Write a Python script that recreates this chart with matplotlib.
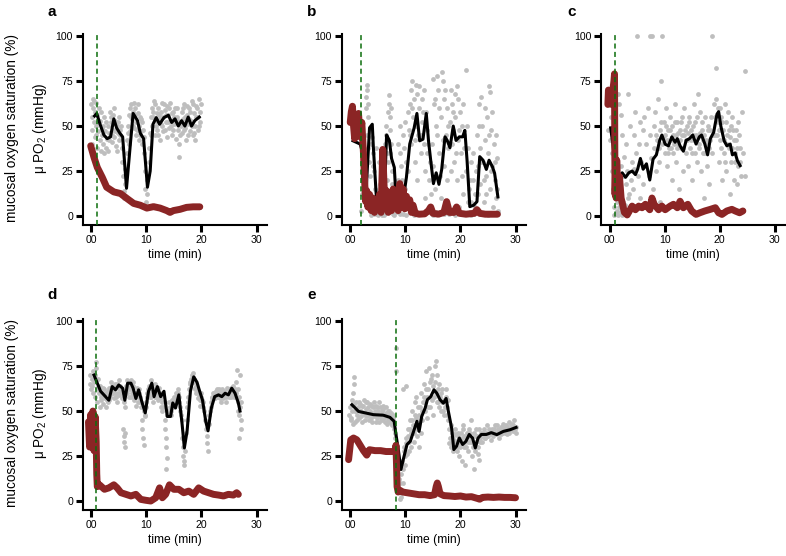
import numpy as np
import matplotlib
matplotlib.use("Agg")
import matplotlib.pyplot as plt

plt.rcParams["font.family"] = ["Liberation Sans", "DejaVu Sans"]
plt.rcParams["mathtext.fontset"] = "custom"
plt.rcParams["mathtext.rm"] = "Liberation Sans"
plt.rcParams["mathtext.it"] = "Liberation Sans:italic"

# x tick labels as printed in the figure
XTICKS = [0, 10, 20, 30]
XTICKLABELS = ["00", "10", "20", "30"]
YTICKS = [0, 25, 50, 75, 100]

# time of the green dashed marker (min)
a_marker = 1.0
b_marker = 1.9
c_marker = 0.95
d_marker = 0.9
e_marker = 8.3

# ---- panel a ----
a_gray = [(0.0, 62), (0.1, 55), (0.2, 48), (0.3, 60), (0.4, 65), (0.5, 52), (0.6, 44), (0.7, 58), (0.8, 63),
          (0.9, 50), (1.0, 38), (1.1, 56), (1.2, 47), (1.4, 60), (1.5, 42), (1.6, 53), (1.8, 36), (1.9, 49),
          (2.0, 45), (2.2, 40), (2.3, 55), (2.5, 47), (2.6, 38), (2.8, 43), (3.0, 50), (3.1, 36), (3.3, 46),
          (3.4, 58), (3.6, 52), (3.7, 41), (3.9, 56), (4.0, 48), (4.2, 44), (4.3, 53), (4.5, 39), (4.6, 50),
          (4.8, 46), (5.0, 42), (5.1, 55), (5.3, 48), (5.5, 38), (5.6, 30), (5.8, 22), (5.9, 14), (6.0, 10),
          (6.1, 18), (6.2, 26), (6.4, 35), (6.5, 42), (6.7, 50), (6.9, 56), (7.0, 60), (7.1, 47), (7.3, 62),
          (7.4, 54), (7.6, 58), (7.8, 49), (7.9, 60), (8.1, 52), (8.2, 45), (8.4, 57), (8.6, 50), (8.7, 42),
          (8.9, 55), (9.0, 47), (9.2, 40), (9.3, 52), (9.5, 44), (9.6, 35), (9.7, 25), (9.8, 15), (9.9, 8),
          (10.0, 5), (10.1, 12), (10.2, 20), (10.4, 30), (10.5, 38), (10.7, 46), (10.8, 55), (11.0, 60),
          (11.1, 50), (11.3, 58), (11.5, 45), (11.6, 62), (11.8, 53), (12.0, 48), (12.1, 60), (12.3, 56),
          (12.5, 42), (12.6, 51), (12.8, 63), (13.0, 55), (13.1, 47), (13.3, 59), (13.5, 52), (13.7, 44),
          (13.8, 61), (14.0, 56), (14.2, 49), (14.3, 63), (14.5, 53), (14.7, 45), (14.9, 58), (15.0, 51),
          (15.2, 60), (15.4, 43), (15.5, 55), (15.7, 48), (15.9, 40), (16.0, 33), (16.2, 52), (16.4, 58),
          (16.5, 46), (16.7, 54), (16.9, 62), (17.0, 49), (17.2, 42), (17.4, 56), (17.5, 51), (17.7, 60),
          (17.9, 47), (18.1, 53), (18.2, 64), (18.4, 45), (18.6, 57), (18.8, 50), (18.9, 42), (19.1, 61),
          (19.3, 55), (19.4, 48), (19.6, 65), (19.7, 58), (19.8, 52),
          (0.2, 40), (0.5, 64), (0.8, 45), (1.3, 52), (1.7, 58), (2.1, 50), (2.4, 35), (2.7, 52), (3.2, 42),
          (3.5, 55), (3.8, 45), (4.1, 60), (4.4, 47), (4.7, 36), (4.9, 52), (5.2, 45), (5.4, 50), (6.6, 46),
          (6.8, 40), (7.2, 55), (7.5, 50), (7.7, 63), (8.0, 56), (8.3, 48), (8.5, 62), (8.8, 45), (9.1, 54),
          (9.4, 48), (10.9, 45), (11.2, 55), (11.4, 64), (11.7, 50), (11.9, 57), (12.2, 45), (12.4, 54),
          (12.7, 58), (12.9, 50), (13.2, 62), (13.4, 48), (13.6, 56), (13.9, 52), (14.1, 60), (14.4, 50),
          (14.6, 57), (14.8, 48), (15.1, 55), (15.3, 52), (15.6, 60), (15.8, 53), (16.1, 45), (16.3, 50),
          (16.6, 60), (16.8, 48), (17.1, 55), (17.3, 61), (17.6, 45), (17.8, 54), (18.0, 58), (18.3, 50),
          (18.5, 62), (18.7, 46), (19.0, 55), (19.2, 60), (19.5, 50), (19.9, 62)]
a_black = [(0.6, 55.6), (1.0, 57), (1.6, 51), (2.3, 45), (2.9, 43), (3.5, 44), (4.1, 54), (4.6, 49), (5.2, 46),
           (5.7, 44), (6.4, 15.4), (7.1, 40), (7.6, 57), (8.4, 53), (8.9, 46), (9.5, 43), (10.2, 16), (10.7, 25),
           (11.2, 51), (11.8, 54.7), (12.4, 51), (13.2, 54.7), (14.0, 56), (14.6, 52), (15.2, 54), (15.8, 50),
           (16.4, 53), (17.0, 50), (17.6, 55), (18.2, 50), (18.8, 53), (19.6, 55)]
a_red = [(-0.1, 39), (0.5, 32.6), (1.1, 27), (2.0, 21.5), (2.8, 16), (4.1, 13.4), (5.3, 12.5), (6.5, 9.7),
         (7.7, 7), (8.9, 6), (10.1, 4.4), (11.3, 5.2), (12.5, 4.4), (13.7, 3), (14.3, 2), (14.9, 3), (16.1, 3.7),
         (17.3, 4.8), (18.5, 5.1), (19.7, 5.1)]

# ---- panel b ----
b_gray = [(1.9, 3), (2.1, 12), (2.3, 20), (2.5, 28),
          (2.8, 60), (2.9, 66), (3.0, 73), (3.1, 70), (3.2, 62), (3.3, 55), (3.0, 45), (3.2, 38), (3.4, 30),
          (3.5, 22), (3.6, 12), (3.3, 5), (3.7, 0.5),
          (4.0, 44), (4.2, 35), (4.3, 25), (4.5, 15), (4.6, 5), (4.8, 1), (5.0, 0.5), (5.2, 8), (5.4, 18),
          (5.5, 1), (5.7, 0.5), (5.9, 3), (6.0, 10),
          (6.3, 40), (6.4, 50), (6.5, 45), (6.6, 35), (6.8, 30), (6.9, 58), (7.0, 62), (7.1, 67), (7.2, 55),
          (7.3, 48), (7.4, 40), (7.5, 25), (7.6, 18), (7.7, 10), (7.8, 1), (8.0, 0.5), (7.4, 60),
          (8.2, 5), (8.4, 2), (8.6, 20), (8.8, 12), (9.0, 35), (9.2, 28), (9.3, 8), (9.5, 45), (9.6, 1),
          (9.8, 38), (10.0, 52), (10.1, 30), (10.2, 0.5),
          (10.4, 58), (10.6, 48), (10.8, 62), (11.0, 70), (11.1, 40), (11.3, 75), (11.4, 55), (11.6, 65),
          (11.7, 30), (11.9, 73), (12.0, 50), (12.2, 68), (12.3, 45), (12.5, 60), (12.6, 1), (12.8, 35),
          (13.0, 65), (13.1, 52), (13.3, 40), (13.5, 25), (13.6, 10), (13.8, 58), (14.0, 48), (14.1, 2),
          (14.3, 20), (14.5, 30), (14.6, 5),
          (14.8, 40), (15.0, 76), (15.2, 62), (15.3, 15), (15.5, 50), (15.6, 2), (15.8, 78), (16.0, 70),
          (16.1, 35), (16.3, 22), (16.5, 55), (16.6, 80), (16.8, 75), (17.0, 65), (17.1, 28), (17.3, 45),
          (17.4, 8), (17.6, 60), (17.8, 38), (18.0, 1), (18.1, 52),
          (18.3, 70), (18.5, 62), (18.6, 48), (18.8, 30), (19.0, 68), (19.1, 55), (19.3, 20), (19.5, 42),
          (19.6, 65), (19.8, 5), (20.0, 58), (20.1, 35), (20.3, 50), (20.5, 12), (20.6, 45), (20.8, 1),
          (21.0, 81), (21.1, 25), (21.3, 38), (21.5, 15), (21.7, 2), (21.9, 30), (22.0, 8),
          (22.3, 20), (22.5, 1), (22.7, 12), (23.0, 45), (23.1, 28), (23.3, 62), (23.5, 38), (23.6, 18),
          (23.8, 66), (24.0, 50), (24.1, 30), (24.3, 8), (24.5, 42), (24.6, 22), (24.8, 55), (25.0, 35),
          (25.1, 72), (25.3, 69), (25.4, 15), (25.6, 48), (25.8, 28), (26.0, 5), (26.1, 40), (26.3, 20),
          (26.5, 10), (26.7, 32), (26.8, 1), (26.9, 3),
          (4.4, 1), (6.2, 0.5), (9.0, 1), (11.5, 0.5), (13.0, 1), (15.0, 0.5), (17.0, 1), (19.0, 0.5),
          (20.5, 1), (22.0, 0.5), (23.5, 1), (25.0, 0.5), (26.5, 1),
          (3.8, 40), (4.1, 28), (4.7, 38), (5.3, 30), (5.6, 12), (6.7, 20), (7.2, 35), (8.3, 15), (8.7, 40),
          (9.1, 50), (9.4, 20), (9.9, 15), (10.5, 25), (10.9, 45), (11.2, 60), (11.8, 42), (12.1, 20),
          (12.4, 72), (12.9, 45), (13.2, 58), (13.4, 70), (13.9, 35), (14.2, 40), (14.7, 12), (15.1, 28),
          (15.4, 65), (15.7, 45), (16.2, 60), (16.4, 10), (16.9, 42), (17.2, 70), (17.5, 20), (17.7, 50),
          (18.2, 25), (18.4, 40), (18.7, 58), (19.2, 35), (19.4, 72), (19.7, 48), (20.2, 22), (20.4, 62),
          (20.7, 38), (21.2, 50), (21.4, 8), (21.8, 20), (22.2, 35), (22.6, 5), (22.9, 25), (23.2, 12),
          (23.4, 50), (23.7, 30), (24.2, 20), (24.4, 60), (24.7, 12), (25.2, 45), (25.5, 25), (25.7, 58),
          (26.2, 30), (26.4, 45), (26.6, 15)]
b_black = [(0.5, 41.8), (1.8, 40), (2.5, 32.6), (2.8, 9), (3.5, 49), (4.0, 51), (4.2, 38), (4.7, 12.5),
           (5.1, 2.4), (5.7, 5), (6.1, 4), (6.6, 45), (7.1, 42), (7.5, 32), (8.0, 27), (8.3, 10.6), (8.9, 3.3),
           (9.6, 8.8), (10.2, 21.6), (10.8, 40), (11.6, 49), (12.1, 57), (12.6, 41.8), (13.2, 42.7), (13.8, 57),
           (14.2, 42), (14.6, 31), (15.1, 18), (15.6, 24), (16.1, 17.6), (16.6, 25.9), (17.2, 44), (17.6, 42),
           (18.1, 38), (18.7, 50), (19.2, 42), (19.8, 44), (20.4, 44), (20.8, 47.6), (21.2, 31), (21.7, 5.2),
           (22.4, 6), (23.0, 8), (23.5, 33), (24.1, 31), (24.7, 25.9), (25.2, 31), (25.8, 27.4), (26.2, 23.8),
           (26.8, 10.6)]
b_red = [(0.0, 52), (0.2, 58), (0.4, 61), (0.6, 50), (0.8, 43), (1.0, 55), (1.2, 47), (1.5, 57), (1.8, 44),
         (2.1, 52), (2.4, 35), (2.6, 20), (2.8, 8), (3.0, 14), (3.2, 5), (3.5, 12), (3.8, 3), (4.1, 10), (4.4, 2),
         (4.7, 8), (5.0, 4), (5.3, 12), (5.6, 2), (5.9, 37), (6.1, 20), (6.3, 5), (6.6, 14), (6.9, 2), (7.2, 10),
         (7.5, 3), (7.8, 15), (8.1, 5), (8.4, 12), (8.7, 3), (9.0, 18), (9.3, 8), (9.6, 15), (9.9, 4), (10.2, 11),
         (10.5, 5), (10.8, 9), (11.1, 2), (11.4, 6), (11.8, 1.5), (12.5, 1), (13.5, 1.2), (14.2, 3), (14.6, 5),
         (15.0, 1.5), (16.0, 1), (17.0, 2), (17.5, 8), (18.0, 2), (18.8, 2), (19.3, 5), (19.8, 1.5), (21.0, 1),
         (22.5, 1.5), (23.0, 3.5), (23.5, 1.5), (24.5, 1), (26.7, 1)]

# ---- panel c ----
c_gray = [(-0.2, 48), (0.0, 42), (0.2, 55), (0.4, 35), (0.5, 25), (0.6, 15), (0.8, 5), (0.9, 0.5), (1.0, 20),
          (1.2, 1), (1.4, 3), (1.6, 0.5), (1.8, 5), (2.0, 2), (2.3, 0.5), (2.5, 8),
          (1.5, 68), (1.7, 62), (2.0, 56), (2.1, 28), (2.3, 45), (2.5, 22), (2.7, 33), (2.9, 18), (3.0, 40),
          (3.2, 25), (3.4, 68), (3.5, 12), (3.7, 50), (3.9, 20), (4.0, 30), (4.2, 15), (4.4, 45), (4.5, 26),
          (4.7, 58), (4.8, 35), (5.0, 100), (5.1, 22), (5.3, 40), (5.5, 10), (5.6, 52),
          (5.8, 30), (6.0, 48), (6.1, 18), (6.3, 55), (6.4, 28), (6.6, 40), (6.8, 5), (6.9, 60), (7.1, 22),
          (7.3, 100), (7.4, 45), (7.6, 32), (7.7, 100), (7.8, 15), (8.0, 50), (8.1, 38), (8.3, 58), (8.4, 25),
          (8.6, 42), (8.8, 65), (8.9, 30), (9.1, 48), (9.2, 8), (9.4, 75), (9.5, 100), (9.6, 40),
          (9.8, 52), (10.0, 35), (10.1, 45), (10.3, 60), (10.5, 28), (10.6, 48), (10.8, 38), (10.9, 55),
          (11.1, 42), (11.3, 20), (11.4, 50), (11.6, 35), (11.8, 62), (12.0, 45), (12.1, 30), (12.3, 52),
          (12.5, 40), (12.6, 15), (12.8, 48), (13.0, 38), (13.1, 55), (13.3, 25), (13.5, 45), (13.6, 60),
          (13.8, 35), (14.0, 50),
          (14.1, 42), (14.3, 28), (14.5, 55), (14.6, 38), (14.8, 48), (15.0, 20), (15.1, 45), (15.3, 62),
          (15.5, 35), (15.6, 52), (15.8, 30), (16.0, 68), (16.1, 44), (16.3, 40), (16.5, 58), (16.6, 25),
          (16.8, 48), (17.0, 35), (17.1, 10), (17.3, 55), (17.5, 42), (17.6, 28), (17.8, 50), (18.0, 38),
          (18.1, 18), (18.3, 48), (18.6, 100), (18.6, 35),
          (19.0, 62), (19.1, 45), (19.4, 82), (19.4, 65), (19.6, 52), (19.8, 30), (20.0, 60), (20.1, 42),
          (20.3, 55), (20.5, 20), (20.6, 48), (20.8, 35), (21.0, 62), (21.1, 25), (21.3, 45), (21.5, 58),
          (21.6, 38), (21.8, 12), (22.0, 50), (22.1, 30), (22.3, 55), (22.5, 42), (22.6, 20), (22.8, 35),
          (23.0, 48), (23.1, 18), (23.3, 28), (23.5, 45), (23.6, 38), (23.8, 22), (24.0, 58), (24.2, 35),
          (24.5, 80.7), (24.5, 22),
          (1.3, 8), (1.7, 12), (2.2, 4), (2.6, 1), (2.8, 6), (3.1, 0.5), (3.3, 10), (3.6, 2), (8.5, 45),
          (9.0, 38), (9.3, 52), (9.7, 44), (10.2, 50), (10.4, 42), (10.7, 35), (11.0, 48), (11.2, 38),
          (11.5, 45), (11.7, 40), (11.9, 52), (12.2, 38), (12.4, 46), (12.7, 42), (12.9, 52), (13.2, 45),
          (13.4, 38), (13.7, 48), (13.9, 42), (14.2, 46), (14.4, 52), (14.7, 42), (14.9, 35), (15.2, 50),
          (15.4, 42), (15.7, 45), (15.9, 55), (16.2, 38), (16.4, 46), (16.7, 52), (16.9, 42), (17.2, 45),
          (17.4, 35), (17.7, 40), (17.9, 48), (18.2, 42), (18.4, 55), (18.8, 45), (19.2, 55), (19.5, 45),
          (19.7, 60), (19.9, 48), (20.2, 38), (20.4, 52), (20.7, 42), (20.9, 30), (21.2, 52), (21.4, 40),
          (21.7, 48), (21.9, 44), (22.2, 38), (22.4, 48), (22.7, 30), (22.9, 42), (23.2, 38), (23.4, 52),
          (23.7, 30)]
c_black = [(0.2, 49), (0.6, 40), (1.06, 27), (1.7, 22), (2.3, 24), (2.9, 21.5), (3.5, 24), (4.1, 25),
           (4.7, 23), (5.1, 26), (5.6, 32), (6.1, 26), (6.7, 29), (7.3, 20), (7.9, 31.6), (8.5, 34), (9.1, 42),
           (9.5, 45), (10.1, 39.9), (10.7, 39), (11.3, 44), (11.9, 41), (12.3, 43), (12.8, 39), (13.4, 36),
           (13.9, 42), (14.5, 43), (15.1, 45), (15.7, 40), (16.3, 44), (16.7, 45), (17.3, 40), (17.8, 34),
           (18.3, 43), (18.9, 46.5), (19.5, 56.6), (19.8, 58), (20.2, 50), (20.8, 41.8), (21.3, 39), (21.9, 40),
           (22.3, 34), (22.8, 35), (23.2, 30.8), (23.7, 28)]
c_red = [(-0.3, 62), (-0.2, 70), (0.0, 64), (0.2, 67), (0.4, 62), (0.6, 70), (0.8, 75), (0.9, 79), (0.95, 40),
         (1.0, 12), (1.1, 25), (1.2, 10), (1.3, 31), (1.5, 15), (1.8, 22), (2.1, 10), (2.4, 6), (2.7, 2),
         (3.2, 0.6), (4.1, 5.5), (4.7, 3.5), (5.3, 5.5), (5.9, 4.6), (6.5, 6.5), (7.3, 3.5), (7.7, 10), (8.1, 6.5),
         (8.9, 3.5), (9.5, 5.5), (10.1, 3.5), (11.0, 5.5), (11.6, 6.5), (12.3, 4.6), (12.8, 8.2), (13.4, 4.6),
         (14.2, 6.5), (14.9, 2.8), (15.7, 0.9), (16.4, 1.8), (17.3, 2.8), (18.3, 3.7), (19.2, 4.6), (19.8, 1.8),
         (20.4, 0.9), (21.3, 2.8), (22.2, 3.7), (22.8, 2.8), (23.6, 1.8), (24.2, 2.8)]

# ---- panel d ----
d_gray = [(-0.3, 65), (-0.2, 70), (0.0, 62), (0.1, 68), (0.3, 72), (0.4, 60), (0.5, 66), (0.7, 58), (0.8, 74),
          (0.9, 77), (1.0, 63), (1.1, 55), (1.2, 68), (1.4, 60), (1.5, 52),
          (1.6, 64), (1.8, 56), (2.0, 60), (2.2, 54), (2.4, 62), (2.5, 57), (2.7, 52), (2.9, 60), (3.0, 55),
          (3.2, 63), (3.4, 58), (3.6, 66), (3.7, 60), (3.9, 62), (4.1, 57), (4.3, 65), (4.4, 60), (4.6, 55),
          (4.8, 63), (5.0, 67), (5.1, 59), (5.3, 62), (5.5, 57),
          (5.8, 40), (5.9, 36), (6.0, 33), (6.1, 38), (6.2, 30), (5.9, 55), (6.1, 52),
          (6.3, 64), (6.5, 67), (6.7, 62), (6.9, 58), (7.0, 65), (7.2, 67), (7.4, 60), (7.6, 64), (7.8, 56),
          (8.0, 60), (8.1, 53), (8.3, 63), (8.5, 58), (8.7, 62), (8.9, 55),
          (9.2, 45), (9.3, 40), (9.4, 35), (9.5, 31), (9.6, 50), (9.8, 47), (10.0, 52),
          (10.2, 60), (10.4, 64), (10.6, 58), (10.8, 67), (11.0, 62), (11.2, 55), (11.4, 60), (11.6, 65),
          (11.8, 58), (12.0, 62), (12.2, 56), (12.4, 60), (12.6, 52), (12.8, 55),
          (13.3, 45), (13.4, 40), (13.5, 35), (13.6, 30), (13.7, 24), (13.6, 18), (13.8, 48),
          (14.0, 50), (14.2, 55), (14.4, 48), (14.6, 56), (14.8, 52), (15.0, 58), (15.2, 54), (15.4, 60),
          (15.6, 57), (15.8, 62), (16.0, 55), (16.2, 50),
          (16.4, 45), (16.5, 35), (16.6, 30), (16.7, 25), (16.8, 22), (16.9, 20), (17.0, 28), (17.2, 38),
          (17.5, 55), (17.8, 62), (18.0, 66), (18.2, 70), (18.4, 69), (18.6, 66), (18.8, 63), (19.0, 60),
          (19.2, 62), (19.4, 57), (19.6, 58), (19.8, 53), (20.0, 60), (20.2, 55), (20.4, 50), (20.6, 45),
          (20.9, 40), (21.0, 36), (21.1, 32), (21.2, 28), (21.3, 43),
          (21.6, 50), (21.8, 55), (22.0, 58), (22.3, 60), (22.5, 57), (22.8, 62), (23.0, 58), (23.3, 60),
          (23.5, 55), (23.8, 62), (24.0, 57), (24.3, 60), (24.5, 55), (24.8, 62), (25.0, 58), (25.3, 63),
          (25.5, 60), (25.8, 64), (26.0, 58), (26.2, 66), (26.4, 73), (26.6, 55), (26.8, 48), (27.0, 70),
          (27.1, 45), (27.2, 40), (26.9, 35), (27.0, 52), (26.7, 50),
          (0.2, 64), (0.6, 70), (1.3, 62), (1.7, 58), (2.1, 63), (2.3, 58), (2.6, 60), (2.8, 56), (3.1, 61),
          (3.3, 56), (3.5, 62), (3.8, 64), (4.0, 60), (4.2, 63), (4.5, 58), (4.7, 65), (4.9, 60), (5.2, 64),
          (5.4, 60), (5.6, 62), (6.4, 60), (6.6, 63), (6.8, 65), (7.1, 62), (7.3, 58), (7.5, 66), (7.7, 60),
          (7.9, 58), (8.2, 60), (8.4, 55), (8.6, 60), (8.8, 58), (9.0, 52), (9.1, 55), (9.7, 48), (9.9, 55),
          (10.1, 58), (10.3, 62), (10.5, 60), (10.7, 63), (10.9, 58), (11.1, 60), (11.3, 62), (11.5, 58),
          (11.7, 62), (11.9, 60), (12.1, 58), (12.3, 63), (12.5, 57), (12.7, 58), (12.9, 50), (13.1, 52),
          (13.3, 55), (14.1, 48), (14.3, 52), (14.5, 50), (14.7, 54), (14.9, 55), (15.1, 56), (15.3, 58),
          (15.5, 55), (15.7, 60), (15.9, 58), (16.1, 52), (16.3, 48), (17.3, 45), (17.4, 52), (17.6, 58),
          (17.9, 65), (18.1, 68), (18.3, 66), (18.5, 71), (18.7, 68), (18.9, 62), (19.1, 64), (19.3, 60),
          (19.5, 60), (19.7, 56), (19.9, 58), (20.1, 56), (20.3, 52), (21.4, 48), (21.7, 52), (21.9, 57),
          (22.1, 60), (22.4, 58), (22.6, 61), (22.9, 59), (23.1, 62), (23.4, 57), (23.6, 60), (23.9, 58),
          (24.1, 61), (24.4, 58), (24.6, 63), (24.9, 59), (25.1, 61), (25.4, 58), (25.6, 62), (25.9, 60),
          (26.1, 62), (26.3, 60), (26.5, 57), (26.7, 62), (26.9, 58), (27.1, 55)]
d_black = [(0.5, 70), (1.1, 65.5), (1.7, 61), (2.6, 58), (3.2, 56), (3.8, 63.6), (4.4, 61.8), (5.0, 64.5),
           (5.7, 62.7), (6.1, 56), (6.6, 65.5), (7.2, 65.5), (7.6, 62.7), (8.1, 57), (8.6, 61.8), (9.2, 55),
           (9.8, 49), (10.4, 61), (11.0, 65.5), (11.4, 58), (12.0, 63.6), (12.6, 58), (13.2, 61), (13.8, 47),
           (14.4, 47), (14.8, 54.5), (15.3, 51.7), (15.9, 59), (16.5, 42.5), (16.9, 29.5), (17.4, 39), (18.0, 61),
           (18.6, 69), (19.2, 66), (19.6, 61.8), (20.2, 56), (20.8, 44), (21.2, 39), (21.8, 51.7), (22.4, 58),
           (23.1, 59), (23.7, 58), (24.3, 59.9), (24.9, 59), (25.5, 62.7), (26.1, 59.9), (26.7, 54.5), (27.0, 50)]
d_red = [(-0.5, 44), (-0.3, 30), (-0.1, 48), (0.1, 35), (0.3, 50), (0.5, 28), (0.7, 47), (0.9, 33), (1.0, 15),
         (1.1, 8), (1.5, 9), (2.4, 6.5), (3.2, 7.3), (4.1, 9), (4.7, 7.3), (5.4, 4.6), (6.3, 3.7), (7.2, 2.8),
         (8.1, 3.7), (9.0, 0.9), (9.9, 0.4), (10.8, 0), (11.7, 1.8), (12.4, 7.3), (12.9, 1.8), (13.5, 3.7),
         (14.2, 9), (15.0, 6.5), (15.9, 6.5), (16.8, 4.6), (17.7, 5.5), (18.6, 3.7), (19.5, 7.3), (20.4, 5.5),
         (21.3, 4.6), (22.2, 3.7), (23.1, 3.3), (24.0, 2.8), (24.9, 3.7), (25.8, 3.3), (26.4, 4.6), (26.7, 3.7)]

# ---- panel e ----
e_gray = [(-0.2, 48), (0.0, 52), (0.2, 45), (0.3, 56), (0.5, 60), (0.6, 65), (0.7, 69), (0.8, 50), (0.9, 44),
          (1.0, 55), (1.2, 48), (1.4, 52), (1.6, 46), (1.8, 54), (2.0, 50), (2.2, 44), (2.4, 53), (2.6, 48),
          (2.8, 55), (3.0, 47), (3.2, 52), (3.4, 45), (3.6, 54), (3.8, 49), (4.0, 44), (4.2, 52), (4.4, 47),
          (4.6, 53), (4.8, 46), (5.0, 50), (5.2, 44), (5.4, 52), (5.6, 48), (5.8, 45), (6.0, 51), (6.2, 46),
          (6.4, 49), (6.6, 43), (6.8, 50), (7.0, 47), (7.2, 44), (7.4, 49), (7.6, 42), (7.8, 46), (8.0, 40),
          (8.2, 35),
          (8.3, 85), (8.3, 72),
          (8.5, 28), (8.6, 20), (8.8, 12), (8.9, 5), (9.0, 1), (9.2, 15), (9.4, 22), (9.6, 10), (9.8, 30),
          (10.0, 25), (9.6, 62), (10.1, 64),
          (10.2, 35), (10.4, 40), (10.6, 28), (10.8, 45), (11.0, 38), (11.2, 50), (11.4, 42), (11.5, 33),
          (11.7, 55), (11.9, 46), (12.0, 58), (12.2, 40), (12.4, 48), (12.5, 30), (12.7, 52), (12.9, 60),
          (13.0, 45), (13.2, 55), (13.4, 65), (13.5, 50), (13.7, 72), (13.9, 58), (14.0, 46), (14.2, 62),
          (14.3, 74), (14.5, 52), (14.7, 68), (14.8, 56), (15.0, 64), (15.1, 48), (15.3, 75), (15.5, 78),
          (15.6, 60), (15.8, 70), (16.0, 55), (16.1, 65), (16.3, 58), (16.5, 50), (16.7, 62), (16.9, 55),
          (17.1, 48), (17.3, 58), (17.5, 52), (17.7, 45), (17.9, 40),
          (18.1, 35), (18.3, 30), (18.5, 38), (18.7, 28), (18.9, 34), (19.1, 40), (19.3, 30), (19.5, 36),
          (19.7, 25), (19.9, 32), (20.1, 38), (20.3, 22), (20.5, 42), (20.7, 30), (20.9, 20), (21.1, 35),
          (21.3, 28), (21.5, 40), (21.7, 33), (21.9, 45), (22.1, 25), (22.3, 30), (22.5, 18), (22.7, 36),
          (22.9, 40), (23.1, 30), (23.3, 23), (23.5, 35),
          (23.7, 38), (24.0, 33), (24.3, 40), (24.5, 35), (24.8, 42), (25.0, 36), (25.3, 38), (25.5, 34),
          (25.8, 40), (26.0, 36), (26.3, 42), (26.5, 37), (26.8, 40), (27.0, 35), (27.3, 41), (27.5, 38),
          (27.8, 43), (28.0, 39), (28.3, 42), (28.5, 37), (28.8, 44), (29.0, 40), (29.3, 43), (29.5, 39),
          (29.8, 45), (30.0, 41), (30.1, 38),
          (0.1, 46), (0.4, 50), (0.5, 43), (0.7, 54), (1.1, 50), (1.3, 45), (1.5, 55), (1.7, 50), (1.9, 47),
          (2.1, 53), (2.3, 49), (2.5, 56), (2.7, 45), (2.9, 51), (3.1, 55), (3.3, 48), (3.5, 50), (3.7, 46),
          (3.9, 53), (4.1, 48), (4.3, 55), (4.5, 50), (4.7, 44), (4.9, 52), (5.1, 48), (5.3, 55), (5.5, 46),
          (5.7, 50), (5.9, 53), (6.1, 47), (6.3, 44), (6.5, 52), (6.7, 47), (6.9, 45), (7.1, 50), (7.3, 46),
          (7.5, 43), (7.7, 48), (7.9, 44), (8.1, 38), (9.1, 10), (9.3, 2), (9.5, 18), (9.7, 28), (9.9, 20),
          (10.1, 32), (10.3, 26), (10.5, 36), (10.7, 33), (10.9, 40), (11.1, 30), (11.3, 45), (11.6, 38),
          (11.8, 48), (12.1, 36), (12.3, 52), (12.6, 45), (12.8, 38), (13.1, 50), (13.3, 58), (13.6, 55),
          (13.8, 62), (14.1, 52), (14.4, 66), (14.6, 58), (14.9, 70), (15.2, 58), (15.4, 66), (15.7, 55),
          (15.9, 62), (16.2, 52), (16.4, 60), (16.6, 55), (16.8, 50), (17.0, 56), (17.2, 52), (17.4, 62),
          (17.6, 48), (17.8, 56), (18.0, 32), (18.2, 42), (18.4, 33), (18.6, 36), (18.8, 30), (19.0, 37),
          (19.2, 33), (19.4, 28), (19.6, 38), (19.8, 35), (20.0, 30), (20.2, 35), (20.4, 40), (20.6, 36),
          (20.8, 33), (21.0, 30), (21.2, 38), (21.4, 33), (21.6, 36), (21.8, 38), (22.0, 35), (22.2, 32),
          (22.4, 38), (22.6, 28), (22.8, 33), (23.0, 36), (23.2, 26), (23.4, 40), (23.6, 33), (23.9, 36),
          (24.1, 38), (24.4, 35), (24.6, 38), (24.9, 36), (25.1, 40), (25.4, 37), (25.6, 39), (25.9, 37),
          (26.1, 40), (26.4, 38), (26.6, 42), (26.9, 38), (27.1, 39), (27.4, 37), (27.6, 41), (27.9, 40),
          (28.1, 38), (28.4, 41), (28.6, 40), (28.9, 38), (29.1, 42), (29.4, 40), (29.6, 42), (29.9, 40)]
e_black = [(0.3, 53.5), (0.9, 51.7), (1.5, 49.8), (2.7, 49), (4.2, 48), (6.0, 47.7), (7.2, 46.5), (7.97, 44.3),
           (8.3, 37), (8.75, 28), (9.2, 17.5), (9.7, 24), (10.3, 31.4), (10.9, 33.2), (11.5, 38.7), (12.1, 44.3),
           (12.5, 38.7), (12.97, 47), (13.6, 51.7), (14.0, 56.3), (14.6, 58), (15.2, 61.8), (15.7, 60),
           (16.3, 56.3), (16.9, 54.4), (17.4, 57), (17.8, 50), (18.4, 40.6), (18.8, 28.6), (19.3, 30.5),
           (19.8, 35), (20.4, 31.4), (21.0, 33.2), (21.6, 37), (22.2, 35), (22.7, 29.5), (23.2, 35), (23.8, 37),
           (24.7, 37), (25.6, 38), (26.6, 36.9), (27.8, 38.7), (29.0, 39.6), (30.1, 40.9)]
e_red = [(-0.3, 23), (0.1, 34), (0.6, 35), (1.2, 34), (1.8, 31), (2.4, 28), (3.0, 25.5), (3.5, 28.5),
         (4.5, 28), (5.5, 28), (6.5, 27.5), (7.5, 27.5), (8.2, 27.5), (8.3, 31), (8.4, 20), (8.5, 8), (8.7, 5),
         (9.0, 6), (9.5, 5), (10.5, 4.5), (11.5, 4), (12.5, 3.5), (13.5, 3.5), (14.5, 3), (15.3, 3.5), (15.6, 8),
         (15.8, 10), (16.0, 8), (16.3, 4), (17.0, 3), (18.0, 2.8), (19.0, 2.5), (20.0, 2.8), (21.0, 2.2),
         (22.0, 2.4), (23.0, 1.5), (23.5, 1), (24.0, 2), (25.0, 2.2), (26.0, 2), (27.0, 2.2), (28.0, 2),
         (29.0, 2), (30.0, 1.8)]

GRAY = "#bebebe"
RED = "#8b2525"
GREEN = "#0c6e0c"

W, H = 786, 556


def px_axes(fig, left, top, right, bottom):
    # pixel box -> figure fraction
    return fig.add_axes([left / W, 1 - bottom / H, (right - left) / W, (bottom - top) / H])


def draw_panel(ax, gray, black, red, marker):
    g = np.array(gray)
    k = np.array(black)
    r = np.array(red)
    ax.scatter(g[:, 0], g[:, 1], s=12, color=GRAY, linewidths=0, zorder=1)
    ax.plot(k[:, 0], k[:, 1], color="black", lw=2.2, solid_joinstyle="round", zorder=2)
    ax.plot(r[:, 0], r[:, 1], color=RED, lw=5, solid_joinstyle="round", solid_capstyle="round", zorder=3)
    ax.axvline(marker, color=GREEN, lw=1.1, linestyle=(0, (3.3, 2.2)), zorder=4)

    ax.set_xlim(-1.55, 31.9)
    ax.set_ylim(-5, 101)
    ax.set_xticks(XTICKS)
    ax.set_xticklabels(XTICKLABELS)
    ax.set_yticks(YTICKS)
    for s in ["top", "right"]:
        ax.spines[s].set_visible(False)
    for s in ["left", "bottom"]:
        ax.spines[s].set_linewidth(1.5)
    ax.tick_params(direction="out", length=5, width=2.2, labelsize=7.6, pad=2)
    ax.set_xlabel("time (min)", fontsize=8.7, labelpad=3)


fig = plt.figure(figsize=(W / 100, H / 100), dpi=100)

panels = [
    ("a", a_gray, a_black, a_red, a_marker, 82.7, 34.3, 47, 12.5),
    ("b", b_gray, b_black, b_red, b_marker, 341.7, 34.3, 307, 12.5),
    ("c", c_gray, c_black, c_red, c_marker, 601.0, 34.3, 567, 12.5),
    ("d", d_gray, d_black, d_red, d_marker, 82.7, 319.3, 47, 295),
    ("e", e_gray, e_black, e_red, e_marker, 341.7, 319.3, 307, 295),
]

for letter, gray, black, red, marker, left, top, lx, ly in panels:
    ax = px_axes(fig, left, top, left + 184.3, top + 190.7)
    draw_panel(ax, gray, black, red, marker)
    fig.text(lx / W, 1 - ly / H, letter, fontsize=11, fontweight="bold", ha="left", va="center")

# y labels (two lines) for left column
for yc in [128, 413]:
    fig.text(12 / W, 1 - yc / H, "mucosal oxygen saturation (%)", rotation=90, fontsize=9.8,
             ha="center", va="center")
    fig.text(40 / W, 1 - yc / H, "\u03bc PO$_2$ (mmHg)", rotation=90, fontsize=9.8,
             ha="center", va="center")

plt.savefig("out.png", dpi=100)
